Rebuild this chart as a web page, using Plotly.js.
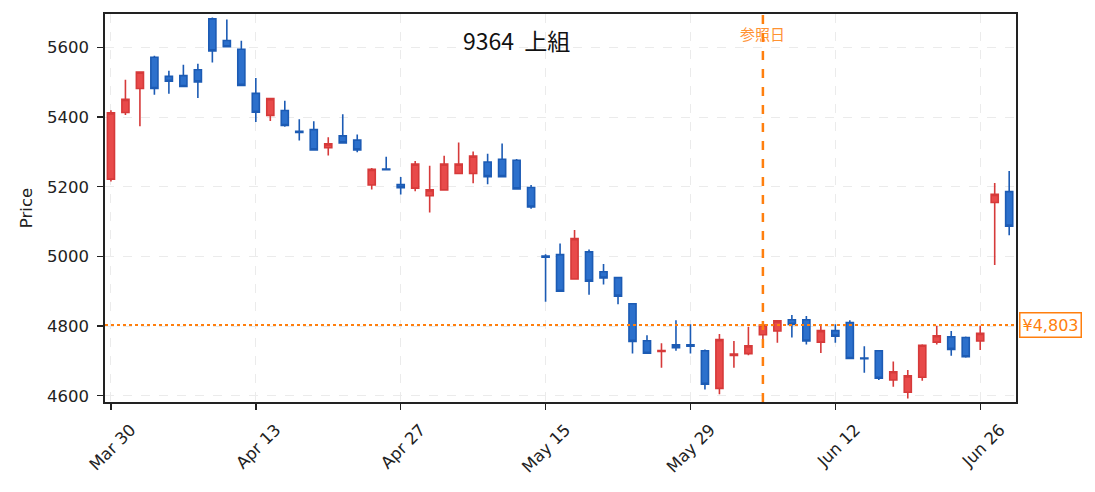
<!DOCTYPE html>
<html>
<head>
<meta charset="utf-8">
<script src="https://cdn.plot.ly/plotly-3.0.1.min.js"></script>
<style>
  html, body { margin: 0; padding: 0; background: #fff; }
  #chart { width: 1095px; height: 492px; }
</style>
</head>
<body>
<div id="chart"></div>
<script>
// trading days, Mar 30 - Jun 30
let dates = [
  "2026-03-30", "2026-03-31", "2026-04-01", "2026-04-02", "2026-04-03",
  "2026-04-06", "2026-04-07", "2026-04-08", "2026-04-09", "2026-04-10",
  "2026-04-13", "2026-04-14", "2026-04-15", "2026-04-16", "2026-04-17",
  "2026-04-20", "2026-04-21", "2026-04-22", "2026-04-23", "2026-04-24",
  "2026-04-27", "2026-04-28", "2026-04-30", "2026-05-01", "2026-05-07",
  "2026-05-08", "2026-05-11", "2026-05-12", "2026-05-13", "2026-05-14",
  "2026-05-15", "2026-05-18", "2026-05-19", "2026-05-20", "2026-05-21",
  "2026-05-22", "2026-05-25", "2026-05-26", "2026-05-27", "2026-05-28",
  "2026-05-29", "2026-06-01", "2026-06-02", "2026-06-03", "2026-06-04",
  "2026-06-05", "2026-06-08", "2026-06-09", "2026-06-10", "2026-06-11",
  "2026-06-12", "2026-06-15", "2026-06-16", "2026-06-17", "2026-06-18",
  "2026-06-19", "2026-06-22", "2026-06-23", "2026-06-24", "2026-06-25",
  "2026-06-26", "2026-06-29", "2026-06-30"
];

let open = [
  5222, 5413, 5482, 5572, 5517, 5519, 5536, 5682, 5620, 5595,
  5468, 5405, 5419, 5359, 5364, 5312, 5346, 5334, 5205, 5251,
  5206, 5196, 5174, 5191, 5238, 5238, 5271, 5279, 5276, 5198,
  5001, 5005, 4935, 5013, 4956, 4939, 4864, 4758, 4727, 4746,
  4746, 4729, 4621, 4716, 4721, 4775, 4786, 4818, 4818, 4754,
  4787, 4810, 4708, 4729, 4645, 4610, 4653, 4754, 4769, 4767,
  4757, 5155, 5186
];
let high = [
  5420, 5507, 5530, 5576, 5533, 5550, 5553, 5686, 5680, 5619,
  5512, 5454, 5447, 5394, 5388, 5342, 5408, 5350, 5254, 5286,
  5228, 5274, 5260, 5289, 5327, 5301, 5295, 5324, 5280, 5205,
  5006, 5037, 5076, 5020, 4978, 4940, 4865, 4774, 4751, 4817,
  4805, 4733, 4777, 4757, 4798, 4812, 4816, 4832, 4829, 4800,
  4805, 4817, 4742, 4730, 4698, 4674, 4748, 4801, 4786, 4770,
  4801, 5211, 5245
];
let low = [
  5215, 5406, 5374, 5464, 5467, 5487, 5455, 5557, 5601, 5490,
  5386, 5389, 5372, 5333, 5305, 5290, 5325, 5299, 5192, 5248,
  5178, 5187, 5126, 5190, 5237, 5210, 5207, 5228, 5193, 5137,
  4870, 4899, 4934, 4890, 4919, 4863, 4721, 4721, 4680, 4729,
  4721, 4618, 4604, 4680, 4716, 4760, 4752, 4767, 4747, 4723,
  4752, 4706, 4666, 4645, 4626, 4592, 4643, 4747, 4715, 4709,
  4731, 4975, 5061
];
let close = [
  5412, 5451, 5529, 5482, 5503, 5488, 5501, 5590, 5602, 5491,
  5414, 5453, 5376, 5356, 5306, 5323, 5326, 5306, 5250, 5249,
  5197, 5265, 5191, 5265, 5265, 5288, 5229, 5229, 5194, 5142,
  4998, 4900, 5051, 4929, 4938, 4886, 4756, 4722, 4730, 4738,
  4742, 4633, 4761, 4720, 4743, 4803, 4815, 4805, 4757, 4787,
  4771, 4707, 4706, 4650, 4669, 4657, 4745, 4772, 4733, 4712,
  4779, 5178, 5087
];

let tickDates = ["2026-03-30", "2026-04-13", "2026-04-27", "2026-05-15", "2026-05-29", "2026-06-12", "2026-06-26"];
let tickLabels = ["Mar 30", "Apr 13", "Apr 27", "May 15", "May 29", "Jun 12", "Jun 26"];

let refDate = "2026-06-05";
let refPrice = 4803;
let title = "9364\u00a0\u00a0上組";

let orange = "#ff7f0e";
let font = "DejaVu Sans, Noto Sans CJK JP, sans-serif";
let cjkFont = "Noto Sans CJK JP, sans-serif";

let trace = {
  type: "candlestick",
  x: dates,
  open: open,
  high: high,
  low: low,
  close: close,
  increasing: {line: {color: "#d63a3a", width: 1.6}, fillcolor: "#e84a4a"},
  decreasing: {line: {color: "#1c5bb4", width: 1.6}, fillcolor: "#2c70cc"},
  whiskerwidth: 0,
  showlegend: false
};

let axisCommon = {
  showline: true,
  mirror: true,
  linecolor: "#222",
  linewidth: 1.6,
  ticks: "outside",
  ticklen: 6,
  tickwidth: 1.4,
  tickcolor: "#222",
  showgrid: true,
  gridcolor: "#ebebeb",
  griddash: "dash",
  gridwidth: 1,
  zeroline: false,
  tickfont: {family: font, size: 16.5, color: "#222"}
};

let layout = {
  width: 1095,
  height: 492,
  margin: {l: 105, r: 79, t: 14, b: 90},
  paper_bgcolor: "#fff",
  plot_bgcolor: "#fff",
  font: {family: font, color: "#222"},
  xaxis: Object.assign({}, axisCommon, {
    type: "category",
    range: [-0.41, 62.47],
    tickmode: "array",
    tickvals: tickDates,
    ticktext: tickLabels,
    tickangle: -45,
    ticklabelshift: 20,
    ticklabelstandoff: 4,
    rangeslider: {visible: false}
  }),
  yaxis: Object.assign({}, axisCommon, {
    range: [4582, 5696],
    dtick: 200,
    ticklabelstandoff: 5,
    title: {text: "Price", font: {family: font, size: 16.5, color: "#222"}, standoff: 10}
  }),
  shapes: [
    {
      type: "line", xref: "x", yref: "paper",
      x0: refDate, x1: refDate, y0: 0, y1: 1,
      line: {color: orange, width: 2.5, dash: "dash"}
    },
    {
      type: "line", xref: "paper", yref: "y",
      x0: 0, x1: 1, y0: refPrice, y1: refPrice,
      line: {color: orange, width: 2, dash: "dot"}
    }
  ],
  annotations: [
    {
      text: title, xref: "paper", yref: "paper",
      x: (516 - 105) / 911, y: (402 - 40) / 388,
      xanchor: "center", yanchor: "middle", showarrow: false,
      font: {family: cjkFont, size: 23, color: "#111"}
    },
    {
      text: "参照日", xref: "x", yref: "paper",
      x: refDate, y: (402 - 33) / 388,
      xanchor: "center", yanchor: "middle", showarrow: false,
      font: {family: cjkFont, size: 15, color: orange}, opacity: 0.85
    },
    {
      text: "¥" + refPrice.toLocaleString("en-US"), xref: "paper", yref: "y",
      x: 1, y: refPrice, xanchor: "left", yanchor: "middle", xshift: 3,
      showarrow: false, bgcolor: "#fff", bordercolor: orange, borderwidth: 1.5, borderpad: 2,
      font: {family: font, size: 16, color: orange}
    }
  ]
};

Plotly.newPlot("chart", [trace], layout, {displayModeBar: false, staticPlot: true});
</script>
</body>
</html>
